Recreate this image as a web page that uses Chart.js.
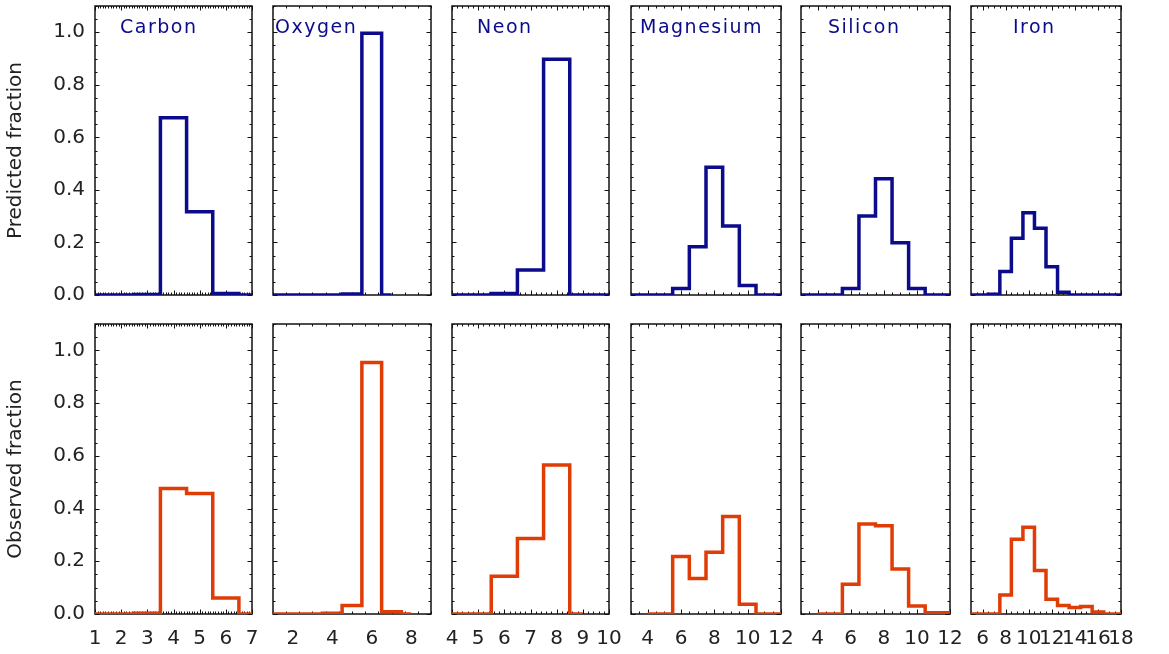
<!DOCTYPE html>
<html lang="en">
<head>
    <meta charset="UTF-8">
    <title>Predicted vs observed charge state fractions</title>
    <style>
        body {
            margin: 0;
            padding: 0;
            background: #fff;
        }
        #figure {
            position: relative;
            width: 1169px;
            height: 654px;
            overflow: hidden;
            background: #fff;
        }
        #figure canvas {
            position: absolute;
        }
    </style>
</head>
<body>
    <div id="figure"></div>
    <script src="https://cdn.jsdelivr.net/npm/chart.js"></script>
    <script>
        // panel names
        const elements = ['Carbon', 'Oxygen', 'Neon', 'Magnesium', 'Silicon', 'Iron'];

        // charge state bins (x) for each panel
        const carbonX = [1, 2, 3, 4, 5, 6, 7];
        const oxygenPredX = [1, 2, 3, 4, 5, 6, 7];
        const oxygenObsX = [1, 2, 3, 4, 5, 6, 7, 8];
        const neonPredX = [4, 5, 6, 7, 8, 9, 10];
        const neonObsX = [4, 5, 6, 7, 8, 9];
        const magnesiumPredX = [3, 4, 5, 6, 7, 8, 9, 10, 11, 12];
        const magnesiumObsX = [4, 5, 6, 7, 8, 9, 10, 11, 12];
        const siliconPredX = [3, 4, 5, 6, 7, 8, 9, 10, 11, 12];
        const siliconObsX = [4, 5, 6, 7, 8, 9, 10, 11, 12];
        const ironX = [5, 6, 7, 8, 9, 10, 11, 12, 13, 14, 15, 16, 17, 18];

        // predicted fractions (top row)
        const carbonPred = [0, 0, 0.002, 0.675, 0.317, 0.006, 0];
        const oxygenPred = [0, 0, 0, 0, 0.004, 0.996, 0];
        const neonPred = [0, 0, 0.006, 0.095, 0.897, 0, 0];
        const magnesiumPred = [0, 0, 0, 0.025, 0.184, 0.486, 0.263, 0.036, 0, 0];
        const siliconPred = [0, 0, 0, 0.025, 0.301, 0.442, 0.199, 0.025, 0, 0];
        const ironPred = [0, 0, 0.003, 0.089, 0.216, 0.313, 0.254, 0.108, 0.010, 0, 0, 0, 0, 0];

        // observed fractions (bottom row)
        const carbonObs = [0, 0, 0.003, 0.476, 0.457, 0.061, 0];
        const oxygenObs = [0, 0, 0, 0.003, 0.032, 0.954, 0.009, 0];
        const neonObs = [0, 0, 0.143, 0.286, 0.565, 0];
        const magnesiumObs = [0, 0, 0.218, 0.135, 0.234, 0.370, 0.037, 0, 0];
        const siliconObs = [0, 0, 0.113, 0.341, 0.335, 0.171, 0.030, 0.005, 0.005];
        const ironObs = [0, 0, 0, 0.072, 0.284, 0.329, 0.165, 0.056, 0.032, 0.025, 0.028, 0.008, 0, 0];

        // axis ranges and ticks
        const xMins = [1, 1, 4, 3, 3, 5];
        const xMaxs = [7, 9, 10, 12, 12, 18];
        const xMajor = [1, 2, 1, 2, 2, 2];
        const xMinor = [0.1, 2 / 3, 0.2, 0.5, 0.5, 0.5];
        const yMin = 0, yMax = 1.1, yMajor = 0.2, yMinor = 0.05;
        const rowTitles = ['Predicted fraction', 'Observed fraction'];

        const rows = [
            { xs: [carbonX, oxygenPredX, neonPredX, magnesiumPredX, siliconPredX, ironX],
              ys: [carbonPred, oxygenPred, neonPred, magnesiumPred, siliconPred, ironPred],
              color: '#0b0b8c' },
            { xs: [carbonX, oxygenObsX, neonObsX, magnesiumObsX, siliconObsX, ironX],
              ys: [carbonObs, oxygenObs, neonObs, magnesiumObs, siliconObs, ironObs],
              color: '#e03c06' }
        ];

        // frame boxes in page pixels
        const colBox = [[95, 252], [273, 431], [452, 609], [631, 781], [801, 950], [971, 1121]];
        const rowBox = [[6, 295], [324, 614]];
        const nameOffset = [25, 2, 25, 9, 27, 42];

        const FONT = "'DejaVu Sans', sans-serif";
        const TEXT = '#222';

        // IDL style box: frame + inward ticks on all four sides
        const idlFrame = {
            id: 'idlFrame',
            beforeDatasetsDraw(chart, args, opts) {
                const ctx = chart.ctx, a = chart.chartArea;
                const xs = chart.scales.x, ys = chart.scales.y;
                ctx.save();
                ctx.strokeStyle = '#111';
                ctx.lineWidth = 1.5;
                ctx.strokeRect(a.left, a.top, a.right - a.left, a.bottom - a.top);
                ctx.lineWidth = 1;
                const eps = 1e-6;
                // x ticks
                for (let v = xs.min; v <= xs.max + eps; v += opts.xMinor) {
                    const isMajor = Math.abs(v / opts.xMajor - Math.round(v / opts.xMajor)) < 1e-4;
                    const len = isMajor ? 4.5 : 2.5;
                    const px = Math.round(xs.getPixelForValue(v)) + 0.5;
                    ctx.beginPath();
                    ctx.moveTo(px, a.bottom); ctx.lineTo(px, a.bottom - len);
                    ctx.moveTo(px, a.top); ctx.lineTo(px, a.top + len);
                    ctx.stroke();
                }
                // y ticks
                for (let v = ys.min; v <= ys.max + eps; v += opts.yMinor) {
                    const isMajor = Math.abs(v / opts.yMajor - Math.round(v / opts.yMajor)) < 1e-4;
                    const len = isMajor ? 4.5 : 2.5;
                    const py = Math.round(ys.getPixelForValue(v)) + 0.5;
                    ctx.beginPath();
                    ctx.moveTo(a.left, py); ctx.lineTo(a.left + len, py);
                    ctx.moveTo(a.right, py); ctx.lineTo(a.right - len, py);
                    ctx.stroke();
                }
                ctx.restore();
            },
            afterDraw(chart, args, opts) {
                if (!opts.name) return;
                const ctx = chart.ctx, a = chart.chartArea;
                ctx.save();
                ctx.font = '19px ' + FONT;
                ctx.letterSpacing = '1.5px';
                ctx.fillStyle = opts.nameColor;
                ctx.textBaseline = 'alphabetic';
                ctx.textAlign = 'left';
                ctx.fillText(opts.name, a.left + opts.nameOffset, a.top + 27);
                ctx.restore();
            }
        };

        const fig = document.getElementById('figure');

        rows.forEach((row, r) => {
            elements.forEach((name, c) => {
                const [fl, fr] = colBox[c];
                const [ft, fb] = rowBox[r];
                const first = c === 0, bottom = r === 1;

                const left = first ? 0 : fl - 20;
                const top = ft - 6;
                const width = fr + 20 - left;
                const height = bottom ? 654 - top : fb + 10 - top;

                const canvas = document.createElement('canvas');
                canvas.width = width;
                canvas.height = height;
                canvas.style.left = left + 'px';
                canvas.style.top = top + 'px';
                canvas.style.width = width + 'px';
                canvas.style.height = height + 'px';
                fig.appendChild(canvas);

                const points = row.xs[c].map((x, i) => ({ x: x, y: row.ys[c][i] }));

                new Chart(canvas, {
                    type: 'line',
                    data: {
                        datasets: [{
                            data: points,
                            stepped: 'middle',
                            borderColor: row.color,
                            borderWidth: 3.5,
                            borderJoinStyle: 'miter',
                            pointRadius: 0,
                            fill: false
                        }]
                    },
                    options: {
                        responsive: false,
                        animation: false,
                        devicePixelRatio: 1,
                        layout: {
                            padding: { left: first ? 0 : 20, right: 20, top: 6, bottom: bottom ? 0 : 10 }
                        },
                        plugins: {
                            legend: { display: false },
                            tooltip: { enabled: false },
                            idlFrame: {
                                xMajor: xMajor[c], xMinor: xMinor[c],
                                yMajor: yMajor, yMinor: yMinor,
                                name: r === 0 ? name : null,
                                nameOffset: nameOffset[c],
                                nameColor: rows[0].color
                            }
                        },
                        scales: {
                            x: {
                                type: 'linear',
                                min: xMins[c],
                                max: xMaxs[c],
                                display: bottom,
                                grid: { display: false, drawTicks: false },
                                border: { display: false },
                                ticks: {
                                    autoSkip: false,
                                    maxRotation: 0,
                                    padding: 13,
                                    color: TEXT,
                                    font: { family: FONT, size: 20 }
                                },
                                // labelled ticks at multiples of the major step
                                afterBuildTicks(scale) {
                                    const step = xMajor[c];
                                    const ticks = [];
                                    for (let v = Math.ceil(scale.min / step) * step; v <= scale.max; v += step) {
                                        ticks.push({ value: v });
                                    }
                                    scale.ticks = ticks;
                                },
                                afterFit(scale) {
                                    if (!bottom) return;
                                    scale.height = 654 - 614;
                                    scale.paddingLeft = 0;
                                    scale.paddingRight = 0;
                                }
                            },
                            y: {
                                min: yMin,
                                max: yMax,
                                display: first,
                                grid: { display: false, drawTicks: false },
                                border: { display: false },
                                ticks: {
                                    stepSize: yMajor,
                                    includeBounds: false,
                                    padding: 10,
                                    color: TEXT,
                                    font: { family: FONT, size: 20 },
                                    callback: v => v.toFixed(1)
                                },
                                title: {
                                    display: true,
                                    text: rowTitles[r],
                                    color: TEXT,
                                    font: { family: FONT, size: 20 },
                                    padding: { top: 4, bottom: 4 }
                                },
                                afterFit(scale) {
                                    if (!first) return;
                                    scale.width = 95;
                                    scale.paddingTop = 0;
                                    scale.paddingBottom = 0;
                                }
                            }
                        }
                    },
                    plugins: [idlFrame]
                });
            });
        });
    </script>
</body>
</html>
